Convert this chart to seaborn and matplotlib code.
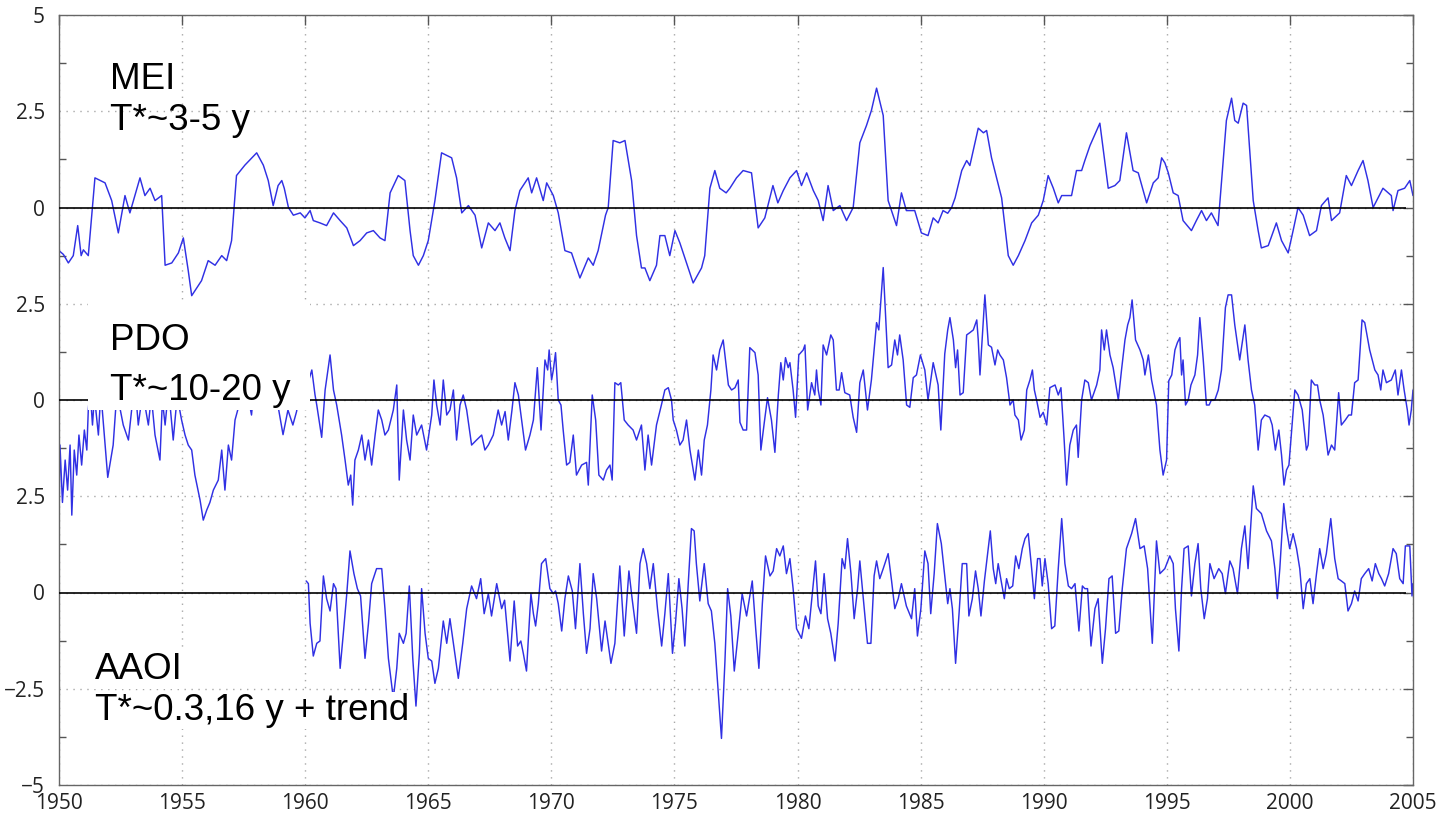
import numpy as np
import pandas as pd
import matplotlib
matplotlib.use('Agg')
import matplotlib.pyplot as plt
from matplotlib.patches import Rectangle
import seaborn as sns

# Series (time in years, index value)
mei_t = [1950.0, 1950.18, 1950.38, 1950.58, 1950.76, 1950.9, 1950.99, 1951.19, 1951.46, 1951.87,
         1952.14, 1952.41, 1952.68, 1952.88, 1953.29, 1953.49, 1953.7, 1953.9, 1954.17, 1954.31,
         1954.58, 1954.85, 1955.05, 1955.25, 1955.39, 1955.79, 1956.06, 1956.34, 1956.61, 1956.81,
         1957.01, 1957.21, 1957.55, 1958.03, 1958.3, 1958.5, 1958.7, 1958.9, 1959.05, 1959.15,
         1959.32, 1959.52, 1959.8, 1959.99, 1960.2, 1960.33, 1960.6, 1960.87, 1961.15, 1961.42,
         1961.69, 1961.96, 1962.23, 1962.5, 1962.77, 1963.04, 1963.24, 1963.45, 1963.78, 1964.05,
         1964.26, 1964.39, 1964.6, 1964.8, 1965.0, 1965.27, 1965.54, 1965.95, 1966.15, 1966.36,
         1966.63, 1966.9, 1967.17, 1967.44, 1967.71, 1967.91, 1968.11, 1968.32, 1968.52, 1968.72,
         1969.06, 1969.2, 1969.4, 1969.67, 1969.81, 1970.08, 1970.28, 1970.55, 1970.82, 1971.16,
         1971.5, 1971.7, 1971.9, 1972.2, 1972.31, 1972.51, 1972.78, 1972.99, 1973.26, 1973.46,
         1973.66, 1973.8, 1974.0, 1974.27, 1974.41, 1974.61, 1974.81, 1975.02, 1975.22, 1975.49,
         1975.76, 1976.1, 1976.23, 1976.44, 1976.64, 1976.84, 1977.1, 1977.25, 1977.52, 1977.79,
         1978.13, 1978.4, 1978.67, 1979.0, 1979.2, 1979.42, 1979.69, 1979.96, 1980.16, 1980.37,
         1980.64, 1980.84, 1981.04, 1981.24, 1981.45, 1981.72, 1981.99, 1982.26, 1982.53, 1982.8,
         1983.0, 1983.21, 1983.48, 1983.68, 1984.02, 1984.22, 1984.42, 1984.76, 1985.03, 1985.3,
         1985.51, 1985.71, 1985.91, 1986.1, 1986.26, 1986.4, 1986.67, 1986.87, 1987.0, 1987.34,
         1987.55, 1987.68, 1987.88, 1988.29, 1988.56, 1988.76, 1988.97, 1989.24, 1989.51, 1989.78,
         1989.98, 1990.18, 1990.39, 1990.59, 1990.73, 1991.13, 1991.33, 1991.54, 1991.67, 1991.88,
         1992.28, 1992.62, 1992.89, 1993.09, 1993.36, 1993.63, 1993.84, 1994.18, 1994.45, 1994.65,
         1994.79, 1994.92, 1995.06, 1995.26, 1995.46, 1995.66, 1996.0, 1996.2, 1996.41, 1996.61,
         1996.81, 1997.08, 1997.29, 1997.42, 1997.63, 1997.76, 1997.9, 1998.1, 1998.24, 1998.37,
         1998.51, 1998.71, 1998.84, 1999.12, 1999.45, 1999.66, 1999.93, 2000.13, 2000.33, 2000.54,
         2000.8, 2001.08, 2001.28, 2001.55, 2001.69, 2002.02, 2002.29, 2002.5, 2002.77, 2002.97,
         2003.17, 2003.38, 2003.58, 2003.78, 2004.12, 2004.19, 2004.39, 2004.66, 2004.87, 2005.0]
mei_v = [-1.12, -1.22, -1.44, -1.25, -0.47, -1.25, -1.1, -1.25, 0.77, 0.64,
         0.18, -0.66, 0.31, -0.14, 0.77, 0.31, 0.5, 0.18, 0.31, -1.5,
         -1.44, -1.18, -0.79, -1.64, -2.29, -1.9, -1.38, -1.5, -1.25, -1.38,
         -0.86, 0.83, 1.1, 1.42, 1.1, 0.7, 0.05, 0.57, 0.7, 0.5,
         0.0, -0.2, -0.14, -0.27, -0.08, -0.34, -0.4, -0.47, -0.14, -0.34,
         -0.53, -0.99, -0.86, -0.66, -0.6, -0.79, -0.86, 0.38, 0.83, 0.7,
         -0.6, -1.25, -1.5, -1.25, -0.86, 0.18, 1.42, 1.29, 0.77, -0.14,
         0.05, -0.2, -1.05, -0.4, -0.6, -0.4, -0.79, -1.12, -0.08, 0.44,
         0.77, 0.38, 0.77, 0.18, 0.64, 0.31, -0.14, -1.12, -1.18, -1.83,
         -1.31, -1.5, -1.12, -0.2, 0.0, 1.74, 1.68, 1.74, 0.7, -0.73,
         -1.57, -1.57, -1.9, -1.5, -0.73, -0.73, -1.25, -0.6, -0.92, -1.44,
         -1.96, -1.57, -1.25, 0.5, 0.96, 0.5, 0.38, 0.5, 0.77, 0.96,
         0.9, -0.53, -0.27, 0.57, 0.12, 0.44, 0.77, 0.96, 0.57, 0.9,
         0.44, 0.18, -0.34, 0.57, -0.08, 0.05, -0.34, 0.0, 1.68, 2.13,
         2.52, 3.1, 2.39, 0.18, -0.47, 0.38, -0.08, -0.08, -0.66, -0.73,
         -0.27, -0.4, -0.08, -0.15, 0.0, 0.25, 0.96, 1.22, 1.09, 2.06,
         1.94, 2.0, 1.29, 0.25, -1.25, -1.5, -1.25, -0.86, -0.4, -0.2,
         0.18, 0.83, 0.5, 0.12, 0.31, 0.31, 0.96, 0.96, 1.22, 1.61,
         2.19, 0.5, 0.57, 0.7, 1.94, 0.96, 0.9, 0.12, 0.64, 0.77,
         1.29, 1.16, 0.9, 0.38, 0.31, -0.34, -0.6, -0.34, -0.08, -0.34,
         -0.14, -0.47, 1.22, 2.26, 2.84, 2.26, 2.19, 2.71, 2.65, 1.48,
         0.18, -0.6, -1.05, -0.99, -0.4, -0.86, -1.18, -0.6, 0.0, -0.2,
         -0.73, -0.6, 0.05, 0.25, -0.34, -0.14, 0.83, 0.57, 0.96, 1.22,
         0.7, 0.0, 0.25, 0.5, 0.31, -0.08, 0.44, 0.5, 0.7, 0.31]

pdo_t = [1950.0, 1950.04, 1950.14, 1950.25, 1950.35, 1950.45, 1950.52, 1950.62, 1950.72, 1950.81,
         1950.92, 1951.03, 1951.13, 1951.19, 1951.26, 1951.36, 1951.44, 1951.6, 1951.7, 1951.98,
         1952.2, 1952.35, 1952.61, 1952.82, 1952.95, 1953.1, 1953.22, 1953.4, 1953.63, 1953.75,
         1953.9, 1954.1, 1954.2, 1954.31, 1954.45, 1954.64, 1954.8, 1954.98, 1955.12, 1955.25,
         1955.39, 1955.52, 1955.73, 1955.86, 1956.0, 1956.13, 1956.27, 1956.47, 1956.61, 1956.74,
         1956.88, 1957.01, 1957.15, 1957.26, 1957.45, 1957.65, 1957.82, 1957.96, 1958.2, 1958.4,
         1958.6, 1958.8, 1959.1, 1959.3, 1959.5, 1959.65, 1959.8, 1960.0, 1960.27, 1960.4,
         1960.47, 1960.67, 1960.81, 1961.01, 1961.15, 1961.28, 1961.48, 1961.62, 1961.75, 1961.85,
         1961.93, 1962.02, 1962.16, 1962.3, 1962.43, 1962.57, 1962.7, 1962.84, 1962.97, 1963.11,
         1963.24, 1963.38, 1963.58, 1963.72, 1963.82, 1963.99, 1964.12, 1964.26, 1964.39, 1964.53,
         1964.73, 1964.93, 1965.14, 1965.23, 1965.34, 1965.48, 1965.61, 1965.75, 1965.88, 1966.02,
         1966.15, 1966.29, 1966.42, 1966.56, 1966.76, 1966.96, 1967.17, 1967.3, 1967.44, 1967.64,
         1967.84, 1967.98, 1968.12, 1968.25, 1968.4, 1968.52, 1968.66, 1968.79, 1968.95, 1969.13,
         1969.27, 1969.43, 1969.58, 1969.74, 1969.85, 1969.91, 1970.01, 1970.08, 1970.17, 1970.28,
         1970.39, 1970.48, 1970.62, 1970.75, 1970.89, 1971.02, 1971.23, 1971.43, 1971.5, 1971.66,
         1971.8, 1971.93, 1972.11, 1972.24, 1972.38, 1972.47, 1972.58, 1972.72, 1972.82, 1972.96,
         1973.12, 1973.32, 1973.46, 1973.66, 1973.8, 1973.93, 1974.07, 1974.27, 1974.47, 1974.61,
         1974.75, 1974.88, 1974.95, 1975.08, 1975.22, 1975.35, 1975.49, 1975.63, 1975.83, 1975.97,
         1976.1, 1976.21, 1976.34, 1976.48, 1976.57, 1976.71, 1976.84, 1976.98, 1977.05, 1977.19,
         1977.32, 1977.46, 1977.59, 1977.66, 1977.79, 1977.93, 1978.06, 1978.27, 1978.4, 1978.51,
         1978.65, 1978.78, 1978.94, 1979.08, 1979.22, 1979.32, 1979.42, 1979.51, 1979.62, 1979.69,
         1979.82, 1979.92, 1980.05, 1980.23, 1980.3, 1980.41, 1980.57, 1980.7, 1980.77, 1980.84,
         1980.95, 1981.04, 1981.18, 1981.35, 1981.45, 1981.58, 1981.69, 1981.79, 1981.92, 1982.12,
         1982.26, 1982.4, 1982.53, 1982.67, 1982.84, 1983.0, 1983.21, 1983.3, 1983.48, 1983.68,
         1983.82, 1983.95, 1984.06, 1984.15, 1984.29, 1984.43, 1984.56, 1984.7, 1984.83, 1984.99,
         1985.17, 1985.3, 1985.51, 1985.71, 1985.82, 1985.98, 1986.1, 1986.19, 1986.33, 1986.42,
         1986.5, 1986.6, 1986.73, 1986.87, 1987.0, 1987.14, 1987.28, 1987.34, 1987.41, 1987.51,
         1987.61, 1987.75, 1987.88, 1988.02, 1988.13, 1988.22, 1988.36, 1988.49, 1988.63, 1988.76,
         1988.83, 1988.97, 1989.08, 1989.21, 1989.31, 1989.44, 1989.54, 1989.62, 1989.71, 1989.85,
         1989.98, 1990.12, 1990.25, 1990.46, 1990.59, 1990.7, 1990.83, 1990.93, 1991.06, 1991.2,
         1991.33, 1991.4, 1991.54, 1991.67, 1991.81, 1991.94, 1992.15, 1992.28, 1992.35, 1992.46,
         1992.55, 1992.69, 1992.82, 1993.03, 1993.16, 1993.3, 1993.41, 1993.5, 1993.59, 1993.73,
         1993.91, 1994.04, 1994.11, 1994.25, 1994.38, 1994.58, 1994.72, 1994.85, 1994.99, 1995.08,
         1995.2, 1995.33, 1995.43, 1995.53, 1995.6, 1995.66, 1995.76, 1995.87, 1995.98, 1996.14,
         1996.25, 1996.34, 1996.48, 1996.61, 1996.72, 1996.81, 1996.95, 1997.09, 1997.22, 1997.38,
         1997.49, 1997.63, 1997.76, 1997.96, 1998.17, 1998.3, 1998.44, 1998.57, 1998.71, 1998.84,
         1998.98, 1999.18, 1999.28, 1999.41, 1999.55, 1999.66, 1999.76, 1999.86, 1999.96, 2000.04,
         2000.2, 2000.33, 2000.5, 2000.67, 2000.74, 2000.87, 2001.01, 2001.12, 2001.21, 2001.35,
         2001.48, 2001.55, 2001.69, 2001.82, 2001.98, 2002.09, 2002.25, 2002.39, 2002.5, 2002.63,
         2002.77, 2002.93, 2003.04, 2003.24, 2003.45, 2003.58, 2003.69, 2003.78, 2003.92, 2004.12,
         2004.28, 2004.39, 2004.53, 2004.64, 2004.77, 2004.84, 2004.93, 2005.0]
pdo_v = [-2.99, -1.17, -2.66, -1.56, -2.34, -1.17, -2.99, -1.3, -1.95, -0.91,
         -1.69, -0.78, -1.3, -0.26, 0.3, -0.65, 0.1, -0.91, 0.2, -2.01,
         -1.17, 0.2, -0.65, -1.04, -0.26, 0.3, -0.65, 0.2, -0.65, 0.1,
         -0.91, -1.56, 0.0, -0.65, 0.3, -1.04, 0.1, -0.52, -0.91, -1.17,
         -1.3, -1.95, -2.6, -3.12, -2.86, -2.66, -2.34, -2.08, -1.3, -2.34,
         -1.17, -1.56, -0.52, -0.26, 0.5, 0.2, -0.39, 0.6, 1.0, 0.4,
         0.8, 0.2, -0.9, -0.26, -0.65, -0.3, 0.3, 0.2, 0.78, 0.13,
         -0.13, -0.97, 0.26, 1.17, 0.26, -0.13, -0.91, -1.56, -2.21, -1.95,
         -2.73, -1.56, -1.3, -0.91, -1.56, -1.04, -1.69, -0.91, -0.26, -0.52,
         -0.91, -0.78, -0.26, 0.39, -2.08, -0.26, -1.04, -1.56, -0.39, -0.91,
         -0.65, -1.3, -0.39, 0.52, -0.13, -0.65, 0.52, -0.39, -0.26, 0.26,
         -1.04, -0.13, 0.13, -0.26, -1.17, -1.04, -0.91, -1.3, -1.17, -0.91,
         -0.26, -0.65, -0.3, -1.04, -0.26, 0.45, 0.13, -0.52, -1.3, -0.91,
         -0.52, 0.84, -0.78, 1.04, 0.78, 1.3, 0.52, 0.78, 1.23, 0.0,
         -0.13, -0.78, -1.69, -1.62, -0.91, -1.95, -1.69, -1.62, -2.21, 0.13,
         -0.52, -1.95, -2.08, -1.82, -1.69, -2.08, 0.45, 0.39, 0.45, -0.52,
         -0.65, -0.78, -1.04, -0.65, -1.82, -0.91, -1.69, -0.65, -0.13, 0.26,
         0.32, 0.0, -0.52, -0.78, -1.17, -1.04, -0.52, -1.3, -2.08, -1.3,
         -1.95, -1.04, -0.65, 0.26, 1.17, 0.78, 1.3, 1.56, 1.17, 0.39,
         0.26, 0.32, 0.52, -0.58, -0.78, -0.78, 1.36, 1.23, 0.65, -1.3,
         -0.58, 0.06, -0.52, -1.36, 0.13, 0.97, 0.52, 1.1, 0.84, 0.97,
         0.26, -0.45, 1.17, 1.3, 1.43, -0.26, 0.45, 0.13, 0.78, 0.26,
         -0.13, 1.43, 1.17, 1.69, 1.56, 0.26, 0.26, 0.71, 0.19, 0.13,
         -0.45, -0.84, 0.45, 0.78, -0.26, 0.52, 2.01, 1.82, 3.44, 0.84,
         0.91, 1.56, 1.17, 1.69, 1.04, -0.13, -0.19, 0.58, 0.65, 1.17,
         0.78, 0.0, 0.97, 0.39, -0.78, 1.2, 1.82, 2.14, 1.56, 0.84,
         1.3, 0.13, 0.19, 1.69, 1.75, 1.82, 2.08, 1.56, 0.65, 1.69,
         2.73, 1.43, 1.37, 0.91, 1.3, 1.17, 1.04, 0.58, -0.13, 0.0,
         -0.39, -0.52, -1.04, -0.78, 0.26, 0.52, 0.78, 0.26, 0.0, -0.45,
         -0.32, -0.65, 0.32, 0.39, 0.13, 0.32, -1.04, -2.21, -1.17, -0.78,
         -0.65, -1.49, 0.0, 0.52, 0.45, 0.0, 0.39, 0.78, 1.82, 1.3,
         1.82, 1.17, 0.84, 0.0, 0.78, 1.56, 1.95, 2.14, 2.6, 1.56,
         1.3, 1.04, 0.65, 1.17, 0.52, -0.13, -1.3, -1.95, -1.56, 0.5,
         0.65, 1.3, 1.49, 1.62, 0.65, 1.04, -0.13, 0.0, 0.39, 0.65,
         1.17, 2.14, 1.04, -0.13, -0.13, 0.0, 0.0, 0.26, 0.78, 2.4,
         2.73, 2.73, 1.95, 1.04, 1.95, 1.04, 0.26, -0.13, -1.3, -0.52,
         -0.39, -0.45, -0.65, -1.3, -0.78, -1.43, -2.21, -1.82, -1.69, -1.04,
         0.26, 0.13, -0.26, -1.3, -1.17, 0.52, 0.39, 0.39, 0.0, -0.39,
         -1.04, -1.43, -1.17, -1.3, 0.19, -0.65, -0.52, -0.39, -0.39, 0.45,
         0.52, 2.08, 2.01, 1.3, 0.78, 0.65, 0.26, 0.78, 0.45, 0.52,
         0.78, 0.13, 0.78, 0.26, -0.26, -0.65, -0.26, 0.26]

aao_t = [1960.04, 1960.13, 1960.2, 1960.33, 1960.47, 1960.6, 1960.74, 1960.87, 1961.01, 1961.15,
         1961.25, 1961.42, 1961.55, 1961.69, 1961.82, 1961.98, 1962.12, 1962.25, 1962.43, 1962.57,
         1962.7, 1962.9, 1963.11, 1963.24, 1963.38, 1963.58, 1963.72, 1963.82, 1963.99, 1964.1,
         1964.23, 1964.37, 1964.5, 1964.64, 1964.73, 1964.87, 1965.0, 1965.14, 1965.27, 1965.41,
         1965.61, 1965.75, 1965.88, 1966.02, 1966.22, 1966.4, 1966.56, 1966.76, 1966.96, 1967.13,
         1967.27, 1967.44, 1967.57, 1967.78, 1967.98, 1968.1, 1968.32, 1968.49, 1968.63, 1968.76,
         1968.86, 1968.99, 1969.17, 1969.27, 1969.36, 1969.47, 1969.6, 1969.77, 1969.94, 1970.08,
         1970.17, 1970.28, 1970.42, 1970.55, 1970.69, 1970.85, 1970.98, 1971.16, 1971.3, 1971.43,
         1971.57, 1971.7, 1971.84, 1972.04, 1972.18, 1972.42, 1972.58, 1972.78, 1972.96, 1973.15,
         1973.28, 1973.46, 1973.6, 1973.73, 1973.87, 1974.0, 1974.14, 1974.31, 1974.48, 1974.61,
         1974.75, 1974.92, 1975.04, 1975.18, 1975.31, 1975.42, 1975.56, 1975.69, 1975.8, 1975.89,
         1976.03, 1976.21, 1976.37, 1976.5, 1976.64, 1976.78, 1976.91, 1977.05, 1977.16, 1977.29,
         1977.43, 1977.59, 1977.75, 1977.93, 1978.16, 1978.3, 1978.43, 1978.57, 1978.7, 1978.88,
         1979.01, 1979.15, 1979.28, 1979.42, 1979.55, 1979.69, 1979.82, 1979.96, 1980.16, 1980.32,
         1980.46, 1980.6, 1980.73, 1980.84, 1980.95, 1981.08, 1981.22, 1981.35, 1981.52, 1981.65,
         1981.81, 1981.92, 1982.03, 1982.17, 1982.3, 1982.44, 1982.53, 1982.71, 1982.84, 1982.98,
         1983.11, 1983.21, 1983.34, 1983.48, 1983.68, 1983.82, 1983.95, 1984.09, 1984.22, 1984.42,
         1984.63, 1984.76, 1984.87, 1985.01, 1985.17, 1985.3, 1985.41, 1985.55, 1985.68, 1985.84,
         1985.98, 1986.1, 1986.19, 1986.29, 1986.42, 1986.56, 1986.69, 1986.87, 1986.96, 1987.1,
         1987.23, 1987.34, 1987.45, 1987.59, 1987.72, 1987.83, 1987.95, 1988.05, 1988.15, 1988.29,
         1988.4, 1988.49, 1988.6, 1988.74, 1988.86, 1988.99, 1989.13, 1989.24, 1989.37, 1989.51,
         1989.62, 1989.75, 1989.85, 1989.94, 1990.05, 1990.18, 1990.32, 1990.45, 1990.59, 1990.73,
         1990.86, 1991.0, 1991.13, 1991.27, 1991.43, 1991.57, 1991.67, 1991.78, 1991.92, 1992.08,
         1992.21, 1992.38, 1992.51, 1992.65, 1992.78, 1992.92, 1993.05, 1993.19, 1993.36, 1993.57,
         1993.73, 1993.91, 1994.08, 1994.22, 1994.41, 1994.58, 1994.72, 1994.92, 1995.12, 1995.26,
         1995.35, 1995.49, 1995.6, 1995.7, 1995.87, 1996.0, 1996.14, 1996.27, 1996.38, 1996.52,
         1996.65, 1996.75, 1996.92, 1997.11, 1997.25, 1997.38, 1997.56, 1997.69, 1997.87, 1998.03,
         1998.17, 1998.3, 1998.51, 1998.64, 1998.84, 1999.05, 1999.25, 1999.39, 1999.49, 1999.59,
         1999.75, 1999.86, 1999.99, 2000.13, 2000.27, 2000.4, 2000.54, 2000.67, 2000.81, 2000.94,
         2001.08, 2001.21, 2001.35, 2001.48, 2001.66, 2001.82, 2001.96, 2002.09, 2002.23, 2002.36,
         2002.5, 2002.63, 2002.77, 2002.9, 2003.04, 2003.2, 2003.34, 2003.47, 2003.61, 2003.72,
         2003.85, 2004.01, 2004.19, 2004.32, 2004.46, 2004.6, 2004.69, 2004.87, 2004.96, 2005.0]
aao_v = [0.3, 0.23, -0.8, -1.65, -1.32, -1.26, 0.43, -0.16, -0.48, 0.23,
         0.1, -1.97, -1.06, -0.03, 1.08, 0.49, 0.1, -0.09, -1.71, -0.81,
         0.23, 0.62, 0.62, -0.42, -1.71, -2.75, -1.97, -1.06, -1.32, -1.06,
         0.17, -1.71, -2.95, -1.58, 0.1, -1.06, -1.71, -1.78, -2.36, -1.97,
         -0.74, -1.32, -0.68, -1.32, -2.23, -1.32, -0.42, 0.17, -0.16, 0.36,
         -0.55, -0.03, -0.61, 0.23, -0.42, -0.2, -1.78, -0.22, -1.39, -1.26,
         -1.58, -2.04, -0.03, -0.55, -0.87, -0.29, 0.75, 0.88, 0.1, -0.03,
         0.04, -0.29, -1.0, -0.16, 0.43, 0.04, -0.94, 0.75, -0.55, -1.58,
         -0.94, 0.49, -0.16, -1.52, -0.74, -1.84, -1.32, 0.69, -1.13, 0.56,
         -0.16, -1.06, 0.75, 1.14, 0.75, 0.1, 0.75, -0.42, -1.39, -0.55,
         0.49, -1.58, -0.81, 0.36, -0.42, -1.39, 0.23, 1.66, 1.6, 0.75,
         -0.22, 0.75, -0.29, -0.48, -1.32, -2.62, -3.79, -1.8, 0.1, -0.61,
         -2.04, -1.06, -0.03, -0.61, 0.3, -0.94, -1.97, -0.29, 0.95, 0.43,
         0.56, 1.14, 0.95, 1.21, 0.49, 0.88, 0.1, -0.94, -1.19, -0.61,
         -0.94, -0.03, 0.82, -0.35, -0.55, 0.49, -0.68, -1.06, -1.78, -0.81,
         0.88, 0.62, 1.4, 0.49, -0.68, 0.1, 0.82, -0.42, -1.32, -1.32,
         0.43, 0.82, 0.36, 0.62, 1.01, 0.3, -0.42, -0.16, 0.23, -0.35,
         -0.68, 0.1, -1.13, -0.42, 1.08, 0.75, -0.55, 0.49, 1.79, 1.27,
         0.43, -0.29, 0.1, -0.42, -1.84, -0.55, 0.75, 0.75, -0.61, -0.16,
         0.56, 0.1, -0.61, 0.3, 1.01, 1.6, 0.62, 0.23, 0.75, 0.23,
         -0.16, 0.36, 0.1, 0.17, 0.95, 0.62, 1.14, 1.4, 1.53, 0.62,
         -0.16, 0.88, 0.88, 0.17, 0.88, 0.23, -0.94, -0.87, 0.62, 1.92,
         0.75, 0.17, 0.1, 0.23, -1.0, 0.17, 0.1, 0.1, -1.39, -0.42,
         -0.16, -1.84, -0.94, 0.36, 0.43, -1.06, -1.0, 0.1, 1.14, 1.53,
         1.92, 1.14, 1.21, 0.62, -1.32, 1.34, 0.49, 0.62, 0.95, 0.75,
         -0.42, -1.52, 0.1, 1.14, 1.21, -0.09, 0.75, 1.27, 0.1, -0.68,
         -0.16, 0.75, 0.36, 0.62, 0.49, -0.03, 0.82, 0.62, -0.03, 1.14,
         1.73, 0.62, 2.77, 2.18, 2.05, 1.6, 1.34, 0.62, -0.16, 0.62,
         2.31, 1.66, 1.14, 1.53, 1.14, 0.62, -0.42, 0.23, 0.36, -0.29,
         0.49, 1.14, 0.62, 1.01, 1.92, 0.88, 0.36, 0.3, 0.23, -0.48,
         -0.29, 0.04, -0.22, 0.36, 0.49, 0.62, 0.3, 0.75, 0.49, 0.36,
         0.17, 0.49, 1.14, 1.01, 0.36, 0.23, 1.21, 1.21, -0.09, 0.23]

# vertical offset of each index in the stacked display
names = ['MEI', 'PDO', 'AAOI']
offsets = [5, 0, -5]

# annotation text: (text, x, y, line spacing, white box padding)
annotations = [
    ('MEI\nT*~3-5 y', 1952.07, 8.78, 1.22, None),
    ('PDO\nT*~10-20 y', 1952.07, 2.0, 1.55, None),
    ('AAOI', 1951.46, -6.55, 1.2, 1),
    ('T*~0.3,16 y + trend', 1951.46, -7.61, 1.2, 1),
]

year_ticks = list(range(1950, 2006, 5))
ytick_vals = [-10, -7.5, -5, -2.5, 0, 2.5, 5, 7.5, 10]
ytick_labels = ['\u22125', '\u22122.5', '0', '2.5', '0', '2.5', '0', '2.5', '5']

sns.set_theme(style='white')
plt.rcParams['font.family'] = ['Open Sans', 'DejaVu Sans']

fig = plt.figure(figsize=(14.45, 8.19), dpi=100)
ax = fig.add_axes([59 / 1445, 1 - 785 / 819, (1413 - 59) / 1445, 770 / 819])

series = [(mei_t, mei_v), (pdo_t, pdo_v), (aao_t, aao_v)]
for (t, v), off in zip(series, offsets):
    df = pd.DataFrame({'year': t, 'value': np.array(v) + off})
    sns.lineplot(data=df, x='year', y='value', ax=ax, color='#3030e4', linewidth=1.05,
                 estimator=None, sort=False)
    ax.hlines(off, 1950, 2004.7, color='black', linewidth=1.2, zorder=3)

# white background behind the PDO label (masks the line there)
ax.add_patch(Rectangle((0.0214, 0.487), 0.164, 0.139, transform=ax.transAxes,
                       facecolor='white', edgecolor='none', zorder=4))

for txt, x, y, ls, pad in annotations:
    kw = {}
    if pad is not None:
        kw['bbox'] = dict(facecolor='white', edgecolor='none', pad=pad)
    ax.text(x, y, txt, fontsize=26.5, family=['Liberation Sans', 'DejaVu Sans'],
            va='top', ha='left', color='black', linespacing=ls, zorder=5, **kw)

ax.set_xlim(1950, 2005)
ax.set_ylim(-10, 10)
ax.set_xticks(year_ticks)
ax.set_xticklabels([str(y) for y in year_ticks])
ax.set_yticks(ytick_vals)
ax.set_yticklabels(ytick_labels)
ax.set_yticks(np.arange(-8.75, 10, 2.5), minor=True)
ax.set_xlabel('')
ax.set_ylabel('')

ax.grid(True, which='major', color='#a8a8a8', linestyle=(0, (1, 4)), linewidth=1.0)
ax.tick_params(axis='both', which='both', direction='in', colors='#555555',
               labelcolor='#222222', labelsize=15, top=True, right=True)
ax.tick_params(axis='both', which='major', length=7, width=1)
ax.tick_params(axis='y', which='minor', length=5, width=1, left=True, right=True)
ax.tick_params(axis='y', which='major', pad=10)
ax.tick_params(axis='x', which='major', pad=6)
for s in ax.spines.values():
    s.set_color('#666666')
    s.set_linewidth(1.0)

fig.savefig('out.png', dpi=100, facecolor='white')
